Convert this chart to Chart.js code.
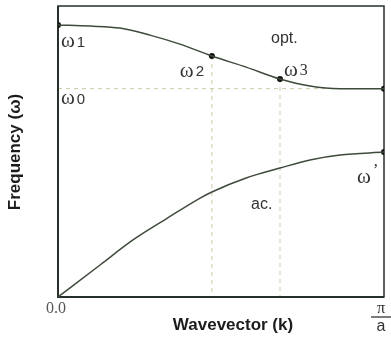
<!DOCTYPE html>
<html>
<head>
<meta charset="utf-8">
<script src="https://cdn.jsdelivr.net/npm/chart.js@4/dist/chart.umd.min.js"></script>
<style>
  html, body { margin: 0; padding: 0; background: #ffffff; }
  #wrap { width: 391px; height: 343px; }
</style>
</head>
<body>
<div id="wrap"><canvas id="c" width="391" height="343"></canvas></div>
<script>
// Phonon dispersion of a diatomic chain, k from 0 to pi/a
const opticalK = [0, 0.098, 0.19, 0.282, 0.374, 0.472, 0.577, 0.681, 0.773, 0.865, 1];
const opticalW = [0.935, 0.931, 0.924, 0.900, 0.869, 0.828, 0.790, 0.749, 0.725, 0.716, 0.716];
const acousticK = [0, 0.129, 0.23, 0.331, 0.436, 0.472, 0.577, 0.681, 0.773, 0.865, 1];
const acousticW = [0, 0.110, 0.196, 0.268, 0.340, 0.361, 0.409, 0.443, 0.471, 0.488, 0.498];

// marked frequencies: omega1, omega2, omega3 and omega0 on the optical branch, omega' on the acoustic one
const markedOptical = [0, 5, 7, 10];
const markedAcoustic = [10];
const xTickLabels = ['0.0', 'π/a'];

const curveColor = '#3e4a3b';
const frameColor = '#27302a';
const guideColor = '#cdc9a8';

const toPoints = (ks, ws) => ks.map((k, i) => ({ x: k, y: ws[i] }));
const markers = [
  ...markedOptical.map(i => ({ x: opticalK[i], y: opticalW[i] })),
  ...markedAcoustic.map(i => ({ x: acousticK[i], y: acousticW[i] }))
];

const decor = {
  id: 'decor',
  beforeDatasetsDraw(chart) {
    const { ctx, chartArea: a, scales: { x, y } } = chart;
    ctx.save();
    // guide lines: omega0 level and the k positions of omega2 / omega3
    ctx.strokeStyle = guideColor;
    ctx.lineWidth = 1;
    ctx.setLineDash([4, 4]);
    const w0 = y.getPixelForValue(opticalW[opticalW.length - 1]);
    ctx.beginPath();
    ctx.moveTo(a.left, w0); ctx.lineTo(a.right, w0);
    [5, 7].forEach(i => {
      const px = x.getPixelForValue(opticalK[i]);
      ctx.moveTo(px, y.getPixelForValue(opticalW[i]));
      ctx.lineTo(px, a.bottom);
    });
    ctx.stroke();
    ctx.setLineDash([]);
    // frame
    ctx.strokeStyle = frameColor;
    ctx.lineWidth = 1.5;
    ctx.strokeRect(a.left, a.top, a.right - a.left, a.bottom - a.top);
    ctx.lineWidth = 2;
    ctx.beginPath();
    ctx.moveTo(a.left, a.top); ctx.lineTo(a.left, a.bottom); ctx.lineTo(a.right, a.bottom);
    ctx.stroke();
    ctx.restore();
  },
  afterDraw(chart) {
    const { ctx, chartArea: a, scales: { x, y } } = chart;
    ctx.save();
    ctx.fillStyle = '#333333';
    ctx.textBaseline = 'middle';
    const omega = (px, py, sub, subSerif) => {
      ctx.font = '21px "Liberation Serif"';
      ctx.textAlign = 'left';
      ctx.fillText('ω', px, py - 1);
      const w = ctx.measureText('ω').width;
      ctx.font = subSerif ? '16px "Liberation Serif"' : '15px "Liberation Sans"';
      ctx.fillText(sub, px + w + 2, py);
    };
    const px = (k) => x.getPixelForValue(k);
    const py = (w) => y.getPixelForValue(w);
    omega(px(0) + 3, py(opticalW[0]) + 18, '1');
    omega(px(0) + 3, py(opticalW[10]) + 11, '0');
    omega(px(opticalK[5]) - 32, py(opticalW[5]) + 16, '2');
    omega(px(opticalK[7]) + 4, py(opticalW[7]) - 8, '3', true);
    ctx.font = '21px "Liberation Serif"';
    ctx.fillText('ω', px(1) - 27, py(acousticW[10]) + 25);
    ctx.font = '16px "Liberation Serif"';
    ctx.fillText('\u2019', px(1) - 11, py(acousticW[10]) + 19);

    ctx.font = '16px "Liberation Sans"';
    ctx.fillText('opt.', 271, 39);
    ctx.fillText('ac.', 251, 205);

    // x tick labels
    ctx.fillStyle = '#555555';
    ctx.font = '16px "Liberation Serif"';
    ctx.textAlign = 'center';
    ctx.fillText(xTickLabels[0], px(0) - 2, a.bottom + 12);
    const [num, den] = xTickLabels[1].split('/');
    const fx = px(1) - 3;
    ctx.fillStyle = '#333333';
    ctx.font = '16px "Liberation Serif"';
    ctx.fillText(num, fx, a.bottom + 12);
    ctx.font = '16px "Liberation Sans"';
    ctx.fillText(den, fx, a.bottom + 30);
    ctx.strokeStyle = '#333333';
    ctx.lineWidth = 1.3;
    ctx.beginPath();
    ctx.moveTo(fx - 10, a.bottom + 20); ctx.lineTo(fx + 10, a.bottom + 20);
    ctx.stroke();

    // axis titles
    ctx.fillStyle = '#1c1c1c';
    ctx.font = 'bold 17px "Liberation Sans"';
    ctx.fillText('Wavevector (k)', 233, 325);
    ctx.translate(15, 152);
    ctx.rotate(-Math.PI / 2);
    ctx.fillText('Frequency (ω)', 0, 0);
    ctx.restore();
  }
};

new Chart(document.getElementById('c'), {
  type: 'scatter',
  data: {
    datasets: [
      { label: 'opt.', data: toPoints(opticalK, opticalW), showLine: true, borderColor: curveColor,
        borderWidth: 1.5, pointRadius: 0, cubicInterpolationMode: 'monotone' },
      { label: 'ac.', data: toPoints(acousticK, acousticW), showLine: true, borderColor: curveColor,
        borderWidth: 1.5, pointRadius: 0, cubicInterpolationMode: 'monotone' },
      { label: 'marked', data: markers, showLine: false, pointRadius: 3,
        pointBackgroundColor: '#111111', pointBorderWidth: 0 }
    ]
  },
  options: {
    responsive: false,
    animation: false,
    layout: { padding: { left: 58, right: 7, top: 6, bottom: 46 } },
    plugins: { legend: { display: false }, tooltip: { enabled: false } },
    scales: {
      x: { type: 'linear', min: 0, max: 1, display: false },
      y: { type: 'linear', min: 0, max: 1, display: false }
    }
  },
  plugins: [decor]
});
</script>
</body>
</html>
